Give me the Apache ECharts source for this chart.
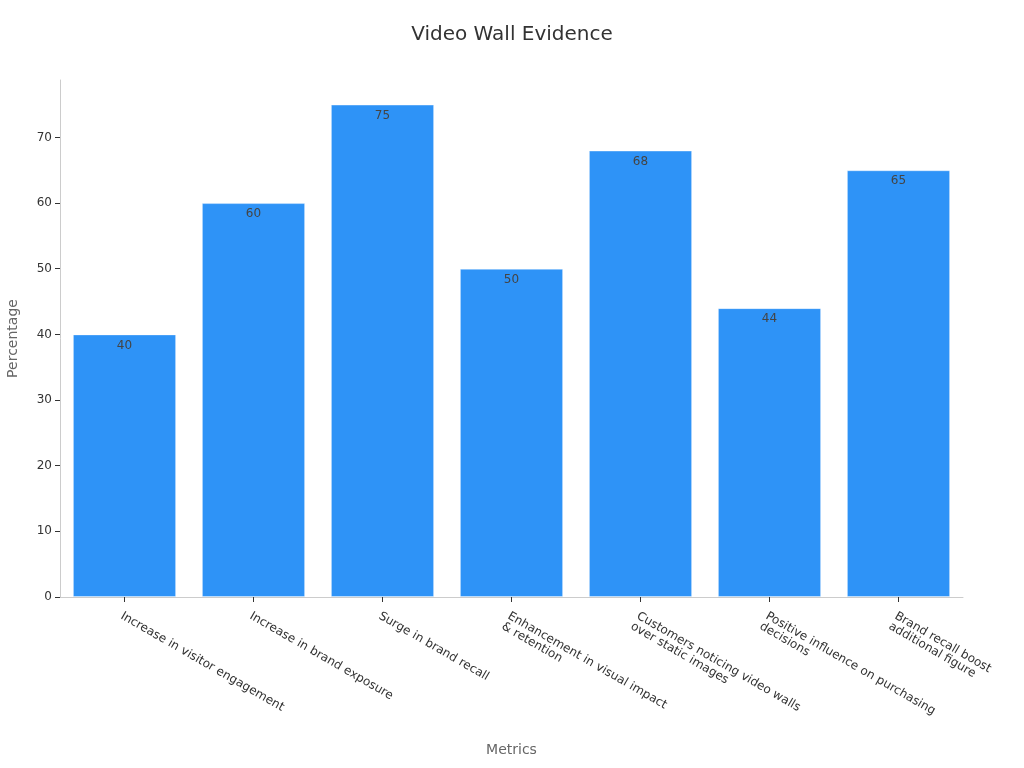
<!DOCTYPE html>
<html>
<head>
<meta charset="utf-8">
<script src="https://cdn.jsdelivr.net/npm/echarts@6/dist/echarts.min.js"></script>
<style>html,body{margin:0;padding:0;background:#fff}#c{width:1024px;height:768px}</style>
</head>
<body>
<div id="c"></div>
<script>
const categories = [
  "Increase in visitor engagement",
  "Increase in brand exposure",
  "Surge in brand recall",
  "Enhancement in visual impact\n& retention",
  "Customers noticing video walls\nover static images",
  "Positive influence on purchasing\ndecisions",
  "Brand recall boost\nadditional figure"
];
const values = [40, 60, 75, 50, 68, 44, 65];
const yTicks = [0, 10, 20, 30, 40, 50, 60, 70];

const chart = echarts.init(document.getElementById('c'));
chart.setOption({
  textStyle: { fontFamily: 'DejaVu Sans' },
  title: {
    text: 'Video Wall Evidence', left: 'center', top: 20,
    textStyle: { fontSize: 20, fontWeight: 'normal', color: '#333', fontFamily: 'DejaVu Sans' }
  },
  grid: { left: 60, right: 61, top: 80, bottom: 171, containLabel: false, outerBoundsMode: 'none' },
  xAxis: {
    type: 'category', data: categories,
    name: 'Metrics', nameLocation: 'middle', nameGap: 146,
    nameTextStyle: { color: '#666', fontSize: 14 },
    axisLine: { lineStyle: { color: '#ccc' } },
    axisTick: { show: true, alignWithLabel: true, length: 5, lineStyle: { color: '#333' } },
    axisLabel: { rotate: -30, color: '#333', fontSize: 12, interval: 0, margin: 13, verticalAlign: 'top' }
  },
  yAxis: {
    type: 'value', min: 0, max: 78.75,
    name: 'Percentage', nameLocation: 'middle', nameGap: 40,
    nameTextStyle: { color: '#666', fontSize: 14 },
    axisLine: { show: true, lineStyle: { color: '#ccc' } },
    axisTick: { show: true, customValues: yTicks, lineStyle: { color: '#333' } },
    axisLabel: { customValues: yTicks, color: '#333', fontSize: 12 },
    splitLine: { show: false }
  },
  series: [{
    type: 'bar', data: values, barCategoryGap: '20%',
    itemStyle: { color: '#2e93f7', borderColor: 'rgba(255,255,255,0.35)', borderWidth: 1 },
    label: { show: true, position: 'insideTop', color: '#444', fontSize: 12, distance: 5 }
  }]
});
</script>
</body>
</html>
